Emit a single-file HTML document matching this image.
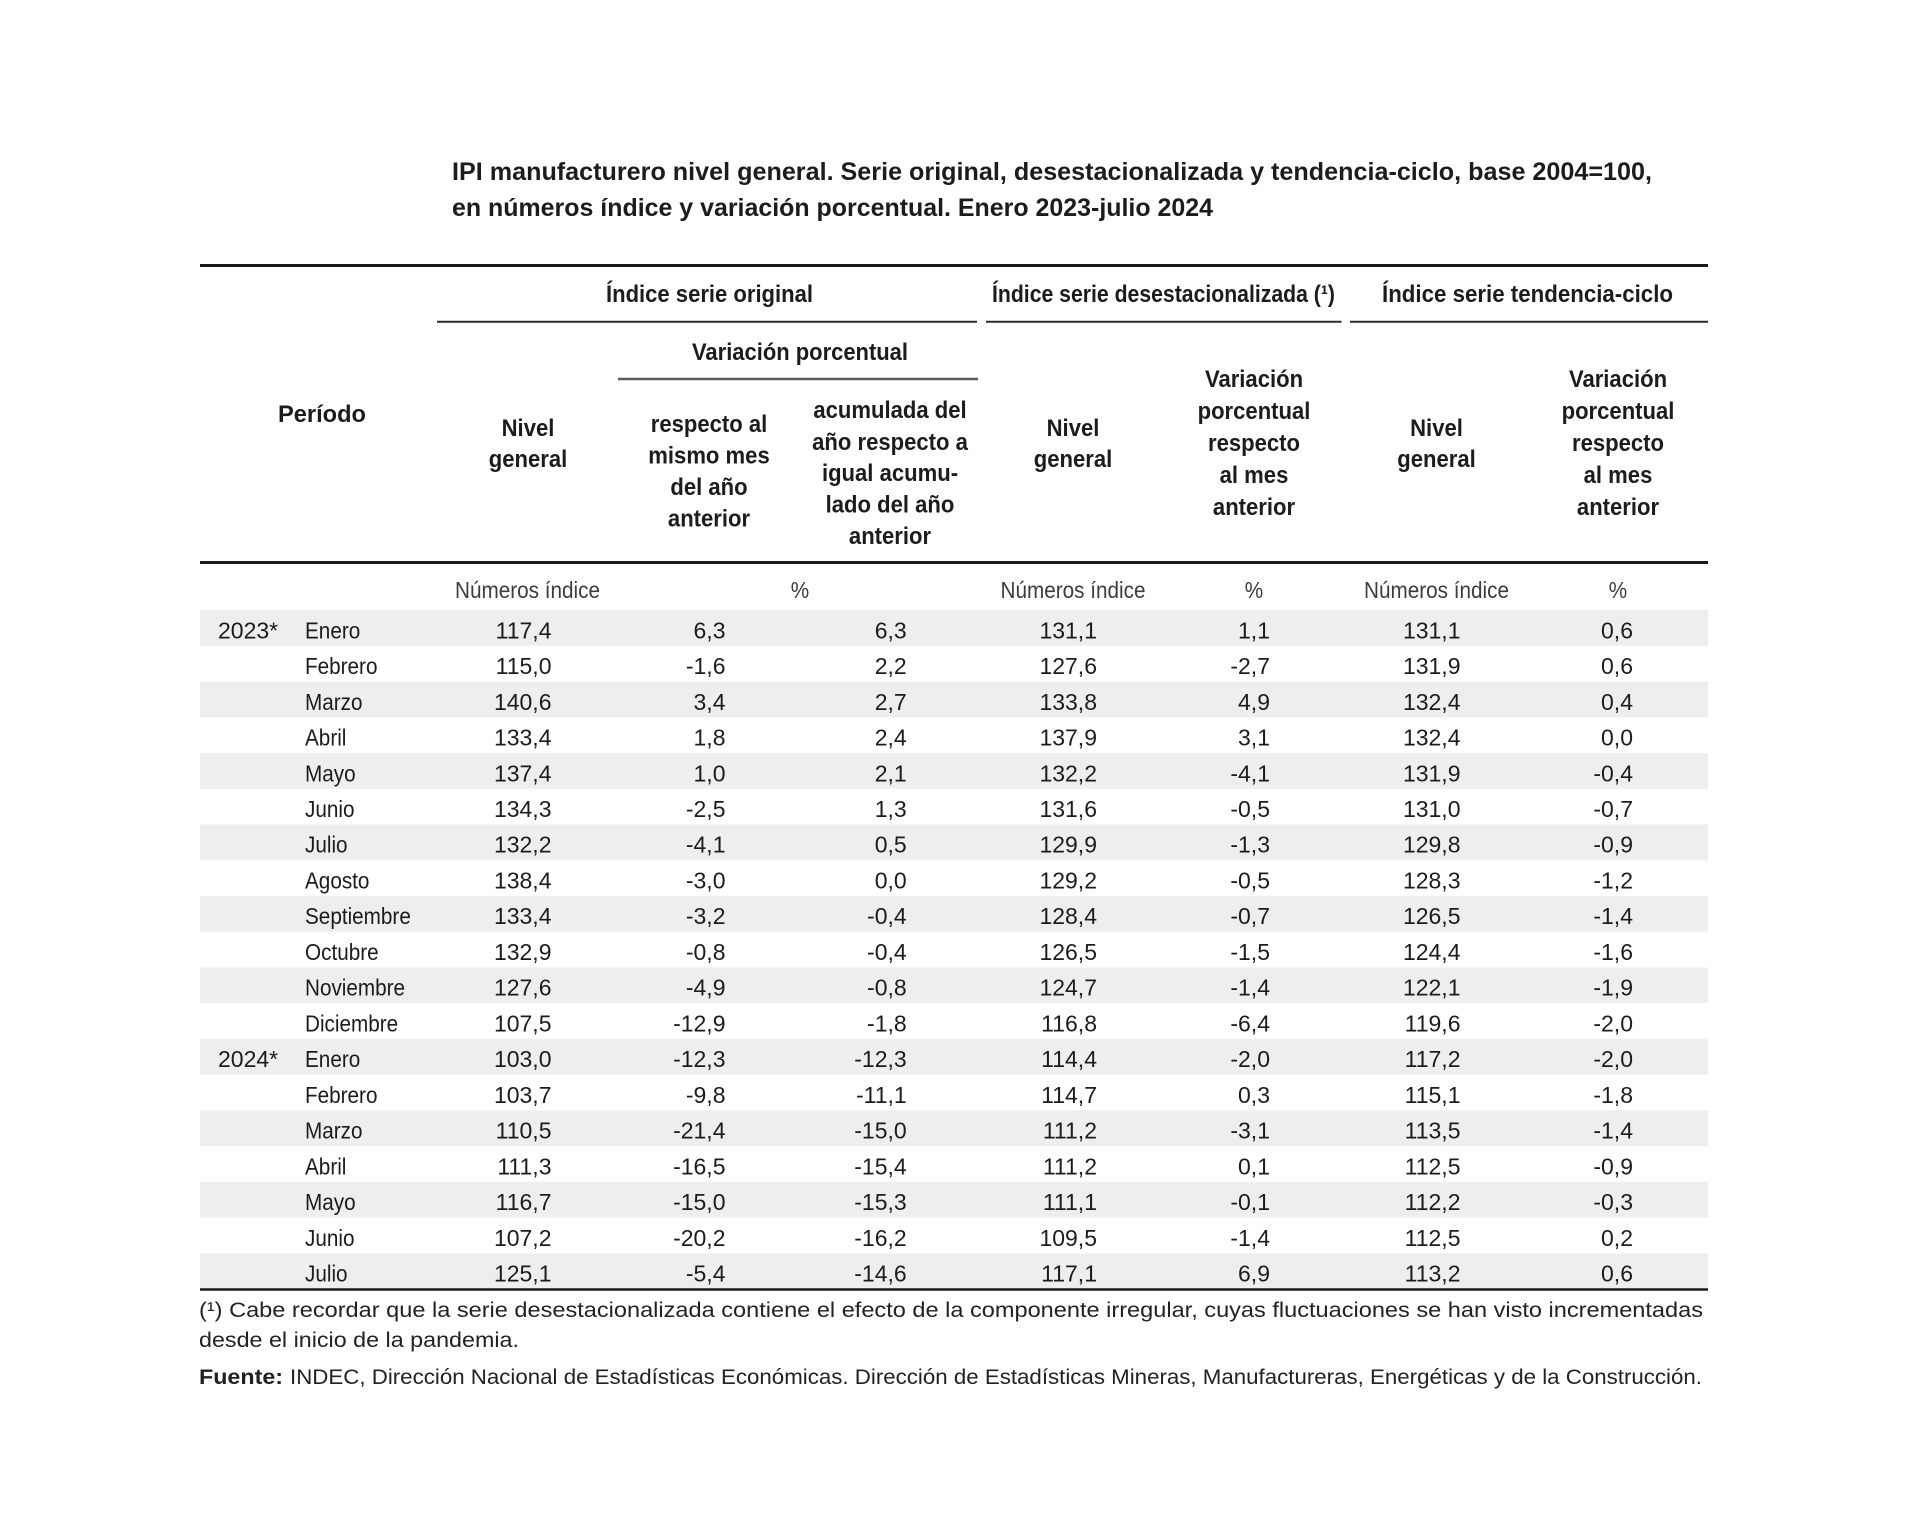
<!DOCTYPE html>
<html>
<head>
<meta charset="utf-8">
<style>
html,body{margin:0;padding:0;background:#fff;}
svg{display:block;}
text{font-family:"Liberation Sans",Arial,sans-serif;fill:#1c1c1c;}
.t{font-weight:bold;font-size:25px;}
.h{font-weight:bold;font-size:24px;}
.u{font-size:23px;fill:#3c3c3c;}
.d{font-size:23px;}
.f{font-size:21px;fill:#222;}
</style>
</head>
<body>
<svg width="1920" height="1522" viewBox="0 0 1920 1522" xmlns="http://www.w3.org/2000/svg">
<rect x="0" y="0" width="1920" height="1522" fill="#fff"/>

<!-- Title -->
<text class="t" x="452" y="180" textLength="1200" lengthAdjust="spacingAndGlyphs">IPI manufacturero nivel general. Serie original, desestacionalizada y tendencia-ciclo, base 2004=100,</text>
<text class="t" x="452" y="216" textLength="761" lengthAdjust="spacingAndGlyphs">en números índice y variación porcentual. Enero 2023-julio 2024</text>

<!-- stripes -->
<g fill="#eeeeef">
<rect x="200" y="610" width="1508" height="35.8"/>
<rect x="200" y="681.5" width="1508" height="35.8"/>
<rect x="200" y="753" width="1508" height="35.8"/>
<rect x="200" y="824.4" width="1508" height="35.8"/>
<rect x="200" y="895.9" width="1508" height="35.8"/>
<rect x="200" y="967.4" width="1508" height="35.8"/>
<rect x="200" y="1038.9" width="1508" height="35.8"/>
<rect x="200" y="1110.4" width="1508" height="35.8"/>
<rect x="200" y="1181.8" width="1508" height="35.8"/>
<rect x="200" y="1253.3" width="1508" height="35"/>
</g>

<!-- Rules -->
<line x1="200" y1="265.5" x2="1708" y2="265.5" stroke="#1a1a1a" stroke-width="3"/>
<line x1="437" y1="321.7" x2="977" y2="321.7" stroke="#2a2a2a" stroke-width="2"/>
<line x1="986" y1="321.7" x2="1341.5" y2="321.7" stroke="#2a2a2a" stroke-width="2"/>
<line x1="1350" y1="321.7" x2="1708" y2="321.7" stroke="#2a2a2a" stroke-width="2"/>
<line x1="618" y1="379" x2="978" y2="379" stroke="#5a5a5a" stroke-width="2.5"/>
<line x1="200" y1="562.5" x2="1708" y2="562.5" stroke="#1a1a1a" stroke-width="3"/>
<line x1="200" y1="1289.5" x2="1708" y2="1289.5" stroke="#1a1a1a" stroke-width="2.5"/>

<!-- Group headers -->
<text class="h" x="606" y="302" textLength="207" lengthAdjust="spacingAndGlyphs">Índice serie original</text>
<text class="h" x="992" y="302" textLength="343" lengthAdjust="spacingAndGlyphs">Índice serie desestacionalizada (¹)</text>
<text class="h" x="1382" y="302" textLength="291" lengthAdjust="spacingAndGlyphs">Índice serie tendencia-ciclo</text>
<text class="h" x="692" y="360" textLength="216" lengthAdjust="spacingAndGlyphs">Variación porcentual</text>
<text class="h" x="278" y="422" textLength="88" lengthAdjust="spacingAndGlyphs">Período</text>

<!-- Column headers -->
<g class="h" text-anchor="middle">
<text class="h" transform="translate(528 436) scale(0.92 1)">Nivel</text>
<text class="h" transform="translate(528 467) scale(0.92 1)">general</text>

<text class="h" transform="translate(709 432) scale(0.92 1)">respecto al</text>
<text class="h" transform="translate(709 463.5) scale(0.92 1)">mismo mes</text>
<text class="h" transform="translate(709 495) scale(0.92 1)">del año</text>
<text class="h" transform="translate(709 526.5) scale(0.92 1)">anterior</text>

<text class="h" transform="translate(890 418) scale(0.92 1)">acumulada del</text>
<text class="h" transform="translate(890 450) scale(0.92 1)">año respecto a</text>
<text class="h" transform="translate(890 481) scale(0.92 1)">igual acumu-</text>
<text class="h" transform="translate(890 512.5) scale(0.92 1)">lado del año</text>
<text class="h" transform="translate(890 544) scale(0.92 1)">anterior</text>

<text class="h" transform="translate(1073 436) scale(0.92 1)">Nivel</text>
<text class="h" transform="translate(1073 467) scale(0.92 1)">general</text>

<text class="h" transform="translate(1254 387) scale(0.92 1)">Variación</text>
<text class="h" transform="translate(1254 419) scale(0.92 1)">porcentual</text>
<text class="h" transform="translate(1254 451) scale(0.92 1)">respecto</text>
<text class="h" transform="translate(1254 483) scale(0.92 1)">al mes</text>
<text class="h" transform="translate(1254 515) scale(0.92 1)">anterior</text>

<text class="h" transform="translate(1436.5 436) scale(0.92 1)">Nivel</text>
<text class="h" transform="translate(1436.5 467) scale(0.92 1)">general</text>

<text class="h" transform="translate(1618 387) scale(0.92 1)">Variación</text>
<text class="h" transform="translate(1618 419) scale(0.92 1)">porcentual</text>
<text class="h" transform="translate(1618 451) scale(0.92 1)">respecto</text>
<text class="h" transform="translate(1618 483) scale(0.92 1)">al mes</text>
<text class="h" transform="translate(1618 515) scale(0.92 1)">anterior</text>
</g>

<!-- Units -->
<g text-anchor="middle">
<text class="u" transform="translate(527.5 598) scale(0.9 1)">Números índice</text>
<text class="u" transform="translate(800 598) scale(0.9 1)">%</text>
<text class="u" transform="translate(1073 598) scale(0.9 1)">Números índice</text>
<text class="u" transform="translate(1254 598) scale(0.9 1)">%</text>
<text class="u" transform="translate(1436.5 598) scale(0.9 1)">Números índice</text>
<text class="u" transform="translate(1618 598) scale(0.9 1)">%</text>
</g>

<!-- Year labels -->
<text class="d" x="218" y="638.3">2023*</text>
<text class="d" x="218" y="1067.2">2024*</text>

<!-- Month labels -->
<g class="d">
<text class="d" transform="translate(305 638.3) scale(0.9 1)">Enero</text>
<text class="d" transform="translate(305 674.0) scale(0.9 1)">Febrero</text>
<text class="d" transform="translate(305 709.8) scale(0.9 1)">Marzo</text>
<text class="d" transform="translate(305 745.5) scale(0.9 1)">Abril</text>
<text class="d" transform="translate(305 781.3) scale(0.9 1)">Mayo</text>
<text class="d" transform="translate(305 817.0) scale(0.9 1)">Junio</text>
<text class="d" transform="translate(305 852.7) scale(0.9 1)">Julio</text>
<text class="d" transform="translate(305 888.5) scale(0.9 1)">Agosto</text>
<text class="d" transform="translate(305 924.2) scale(0.9 1)">Septiembre</text>
<text class="d" transform="translate(305 960.0) scale(0.9 1)">Octubre</text>
<text class="d" transform="translate(305 995.7) scale(0.9 1)">Noviembre</text>
<text class="d" transform="translate(305 1031.4) scale(0.9 1)">Diciembre</text>
<text class="d" transform="translate(305 1067.2) scale(0.9 1)">Enero</text>
<text class="d" transform="translate(305 1102.9) scale(0.9 1)">Febrero</text>
<text class="d" transform="translate(305 1138.7) scale(0.9 1)">Marzo</text>
<text class="d" transform="translate(305 1174.4) scale(0.9 1)">Abril</text>
<text class="d" transform="translate(305 1210.1) scale(0.9 1)">Mayo</text>
<text class="d" transform="translate(305 1245.9) scale(0.9 1)">Junio</text>
<text class="d" transform="translate(305 1281.6) scale(0.9 1)">Julio</text>
</g>

<!-- Column 1: Nivel general (original) -->
<g text-anchor="end">
<text class="d" x="551.5" y="638.3">117,4</text>
<text class="d" x="551.5" y="674.0">115,0</text>
<text class="d" x="551.5" y="709.8">140,6</text>
<text class="d" x="551.5" y="745.5">133,4</text>
<text class="d" x="551.5" y="781.3">137,4</text>
<text class="d" x="551.5" y="817.0">134,3</text>
<text class="d" x="551.5" y="852.7">132,2</text>
<text class="d" x="551.5" y="888.5">138,4</text>
<text class="d" x="551.5" y="924.2">133,4</text>
<text class="d" x="551.5" y="960.0">132,9</text>
<text class="d" x="551.5" y="995.7">127,6</text>
<text class="d" x="551.5" y="1031.4">107,5</text>
<text class="d" x="551.5" y="1067.2">103,0</text>
<text class="d" x="551.5" y="1102.9">103,7</text>
<text class="d" x="551.5" y="1138.7">110,5</text>
<text class="d" x="551.5" y="1174.4">111,3</text>
<text class="d" x="551.5" y="1210.1">116,7</text>
<text class="d" x="551.5" y="1245.9">107,2</text>
<text class="d" x="551.5" y="1281.6">125,1</text>
</g>

<!-- Column 2 -->
<g text-anchor="end">
<text class="d" x="725.5" y="638.3">6,3</text>
<text class="d" x="725.5" y="674.0">-1,6</text>
<text class="d" x="725.5" y="709.8">3,4</text>
<text class="d" x="725.5" y="745.5">1,8</text>
<text class="d" x="725.5" y="781.3">1,0</text>
<text class="d" x="725.5" y="817.0">-2,5</text>
<text class="d" x="725.5" y="852.7">-4,1</text>
<text class="d" x="725.5" y="888.5">-3,0</text>
<text class="d" x="725.5" y="924.2">-3,2</text>
<text class="d" x="725.5" y="960.0">-0,8</text>
<text class="d" x="725.5" y="995.7">-4,9</text>
<text class="d" x="725.5" y="1031.4">-12,9</text>
<text class="d" x="725.5" y="1067.2">-12,3</text>
<text class="d" x="725.5" y="1102.9">-9,8</text>
<text class="d" x="725.5" y="1138.7">-21,4</text>
<text class="d" x="725.5" y="1174.4">-16,5</text>
<text class="d" x="725.5" y="1210.1">-15,0</text>
<text class="d" x="725.5" y="1245.9">-20,2</text>
<text class="d" x="725.5" y="1281.6">-5,4</text>
</g>

<!-- Column 3 -->
<g text-anchor="end">
<text class="d" x="906.7" y="638.3">6,3</text>
<text class="d" x="906.7" y="674.0">2,2</text>
<text class="d" x="906.7" y="709.8">2,7</text>
<text class="d" x="906.7" y="745.5">2,4</text>
<text class="d" x="906.7" y="781.3">2,1</text>
<text class="d" x="906.7" y="817.0">1,3</text>
<text class="d" x="906.7" y="852.7">0,5</text>
<text class="d" x="906.7" y="888.5">0,0</text>
<text class="d" x="906.7" y="924.2">-0,4</text>
<text class="d" x="906.7" y="960.0">-0,4</text>
<text class="d" x="906.7" y="995.7">-0,8</text>
<text class="d" x="906.7" y="1031.4">-1,8</text>
<text class="d" x="906.7" y="1067.2">-12,3</text>
<text class="d" x="906.7" y="1102.9">-11,1</text>
<text class="d" x="906.7" y="1138.7">-15,0</text>
<text class="d" x="906.7" y="1174.4">-15,4</text>
<text class="d" x="906.7" y="1210.1">-15,3</text>
<text class="d" x="906.7" y="1245.9">-16,2</text>
<text class="d" x="906.7" y="1281.6">-14,6</text>
</g>

<!-- Column 4 -->
<g text-anchor="end">
<text class="d" x="1097" y="638.3">131,1</text>
<text class="d" x="1097" y="674.0">127,6</text>
<text class="d" x="1097" y="709.8">133,8</text>
<text class="d" x="1097" y="745.5">137,9</text>
<text class="d" x="1097" y="781.3">132,2</text>
<text class="d" x="1097" y="817.0">131,6</text>
<text class="d" x="1097" y="852.7">129,9</text>
<text class="d" x="1097" y="888.5">129,2</text>
<text class="d" x="1097" y="924.2">128,4</text>
<text class="d" x="1097" y="960.0">126,5</text>
<text class="d" x="1097" y="995.7">124,7</text>
<text class="d" x="1097" y="1031.4">116,8</text>
<text class="d" x="1097" y="1067.2">114,4</text>
<text class="d" x="1097" y="1102.9">114,7</text>
<text class="d" x="1097" y="1138.7">111,2</text>
<text class="d" x="1097" y="1174.4">111,2</text>
<text class="d" x="1097" y="1210.1">111,1</text>
<text class="d" x="1097" y="1245.9">109,5</text>
<text class="d" x="1097" y="1281.6">117,1</text>
</g>

<!-- Column 5 -->
<g text-anchor="end">
<text class="d" x="1270" y="638.3">1,1</text>
<text class="d" x="1270" y="674.0">-2,7</text>
<text class="d" x="1270" y="709.8">4,9</text>
<text class="d" x="1270" y="745.5">3,1</text>
<text class="d" x="1270" y="781.3">-4,1</text>
<text class="d" x="1270" y="817.0">-0,5</text>
<text class="d" x="1270" y="852.7">-1,3</text>
<text class="d" x="1270" y="888.5">-0,5</text>
<text class="d" x="1270" y="924.2">-0,7</text>
<text class="d" x="1270" y="960.0">-1,5</text>
<text class="d" x="1270" y="995.7">-1,4</text>
<text class="d" x="1270" y="1031.4">-6,4</text>
<text class="d" x="1270" y="1067.2">-2,0</text>
<text class="d" x="1270" y="1102.9">0,3</text>
<text class="d" x="1270" y="1138.7">-3,1</text>
<text class="d" x="1270" y="1174.4">0,1</text>
<text class="d" x="1270" y="1210.1">-0,1</text>
<text class="d" x="1270" y="1245.9">-1,4</text>
<text class="d" x="1270" y="1281.6">6,9</text>
</g>

<!-- Column 6 -->
<g text-anchor="end">
<text class="d" x="1460.5" y="638.3">131,1</text>
<text class="d" x="1460.5" y="674.0">131,9</text>
<text class="d" x="1460.5" y="709.8">132,4</text>
<text class="d" x="1460.5" y="745.5">132,4</text>
<text class="d" x="1460.5" y="781.3">131,9</text>
<text class="d" x="1460.5" y="817.0">131,0</text>
<text class="d" x="1460.5" y="852.7">129,8</text>
<text class="d" x="1460.5" y="888.5">128,3</text>
<text class="d" x="1460.5" y="924.2">126,5</text>
<text class="d" x="1460.5" y="960.0">124,4</text>
<text class="d" x="1460.5" y="995.7">122,1</text>
<text class="d" x="1460.5" y="1031.4">119,6</text>
<text class="d" x="1460.5" y="1067.2">117,2</text>
<text class="d" x="1460.5" y="1102.9">115,1</text>
<text class="d" x="1460.5" y="1138.7">113,5</text>
<text class="d" x="1460.5" y="1174.4">112,5</text>
<text class="d" x="1460.5" y="1210.1">112,2</text>
<text class="d" x="1460.5" y="1245.9">112,5</text>
<text class="d" x="1460.5" y="1281.6">113,2</text>
</g>

<!-- Column 7 -->
<g text-anchor="end">
<text class="d" x="1633" y="638.3">0,6</text>
<text class="d" x="1633" y="674.0">0,6</text>
<text class="d" x="1633" y="709.8">0,4</text>
<text class="d" x="1633" y="745.5">0,0</text>
<text class="d" x="1633" y="781.3">-0,4</text>
<text class="d" x="1633" y="817.0">-0,7</text>
<text class="d" x="1633" y="852.7">-0,9</text>
<text class="d" x="1633" y="888.5">-1,2</text>
<text class="d" x="1633" y="924.2">-1,4</text>
<text class="d" x="1633" y="960.0">-1,6</text>
<text class="d" x="1633" y="995.7">-1,9</text>
<text class="d" x="1633" y="1031.4">-2,0</text>
<text class="d" x="1633" y="1067.2">-2,0</text>
<text class="d" x="1633" y="1102.9">-1,8</text>
<text class="d" x="1633" y="1138.7">-1,4</text>
<text class="d" x="1633" y="1174.4">-0,9</text>
<text class="d" x="1633" y="1210.1">-0,3</text>
<text class="d" x="1633" y="1245.9">0,2</text>
<text class="d" x="1633" y="1281.6">0,6</text>
</g>

<!-- Footnotes -->
<text class="f" x="199" y="1317" textLength="1504" lengthAdjust="spacingAndGlyphs">(¹) Cabe recordar que la serie desestacionalizada contiene el efecto de la componente irregular, cuyas fluctuaciones se han visto incrementadas</text>
<text class="f" x="199" y="1347" textLength="320" lengthAdjust="spacingAndGlyphs">desde el inicio de la pandemia.</text>
<text class="f" x="199" y="1384" textLength="84" lengthAdjust="spacingAndGlyphs" style="font-weight:bold">Fuente:</text>
<text class="f" x="290" y="1384" textLength="1412" lengthAdjust="spacingAndGlyphs">INDEC, Dirección Nacional de Estadísticas Económicas. Dirección de Estadísticas Mineras, Manufactureras, Energéticas y de la Construcción.</text>
</svg>
</body>
</html>
